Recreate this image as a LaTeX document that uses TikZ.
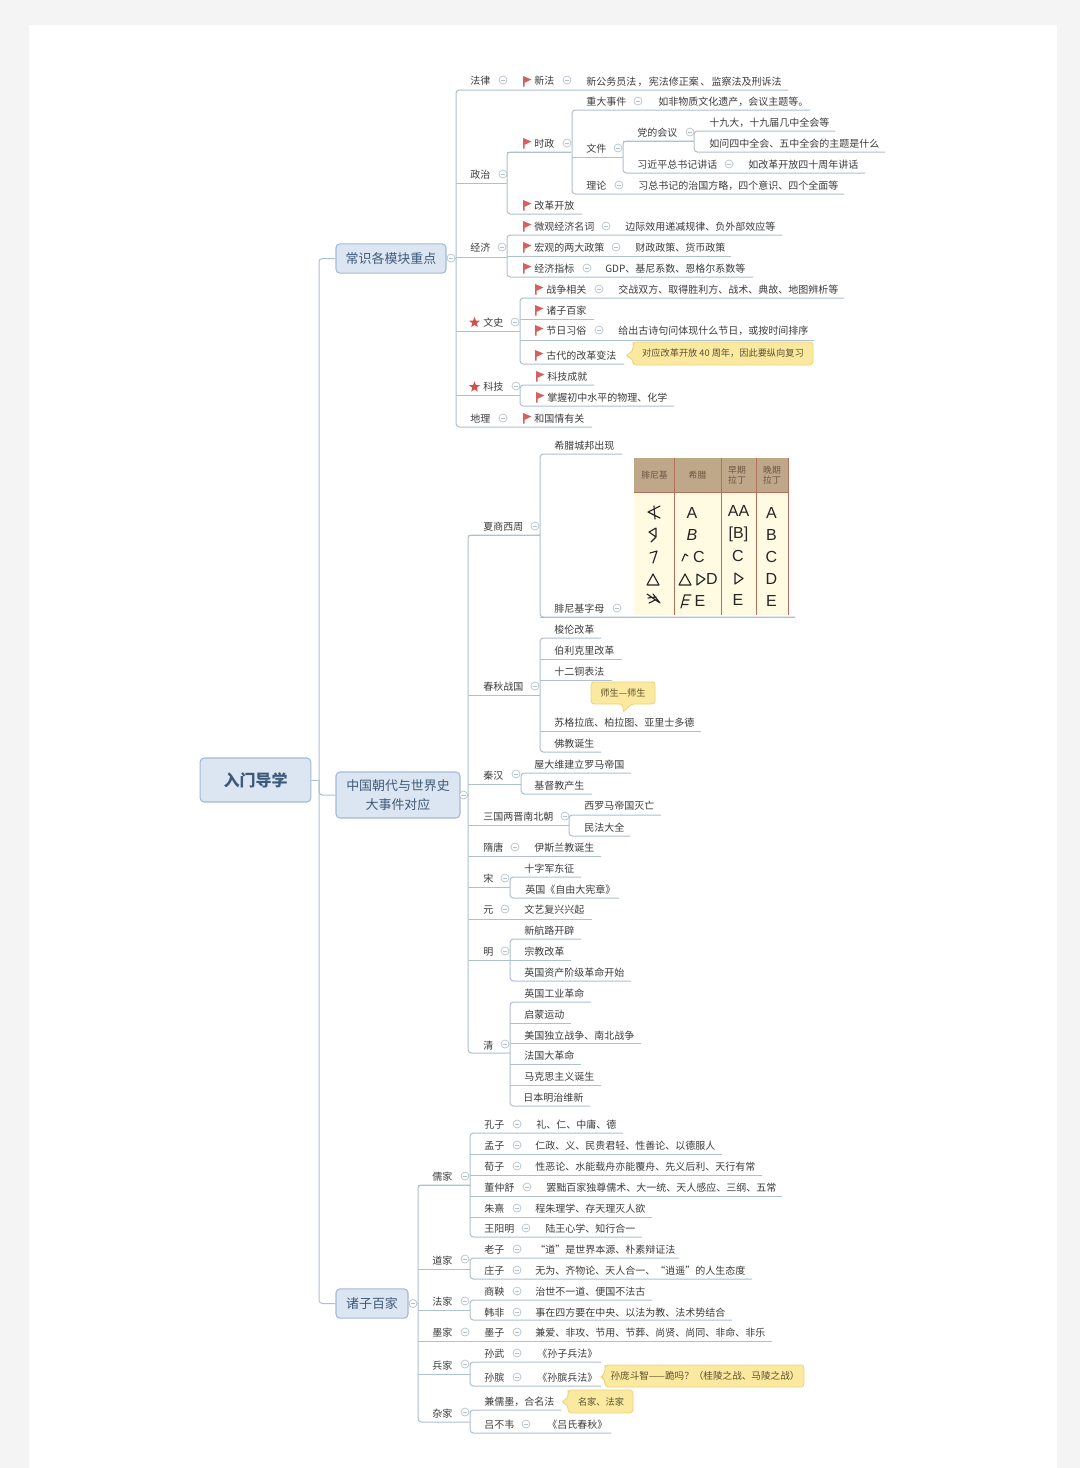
\documentclass[tikz,border=0pt]{standalone}
\usepackage{fontspec}
\setmainfont{Noto Sans CJK SC}
\newfontfamily\glyphfont{Liberation Sans}
\usetikzlibrary{shapes.geometric,calc}
\definecolor{pagebg}{HTML}{F4F4F4}
\definecolor{lnc}{HTML}{AEC0D2}
\definecolor{txc}{HTML}{3C3C3C}
\definecolor{boxf}{HTML}{DCE6F2}
\definecolor{boxd}{HTML}{A5BAD2}
\definecolor{boxt}{HTML}{3E5A7A}
\definecolor{ccd}{HTML}{B4C0CB}
\definecolor{flagc}{HTML}{D5605E}
\definecolor{starc}{HTML}{D4504E}
\definecolor{callf}{HTML}{FBE9A0}
\definecolor{calld}{HTML}{EBD37C}
\definecolor{calt}{HTML}{5A5030}
\definecolor{tanc}{HTML}{BFA78A}
\definecolor{creamc}{HTML}{FFFBE2}
\definecolor{rulec}{HTML}{B4705A}
\definecolor{hdt}{HTML}{6A5540}
\tikzset{
  ln/.style={draw=lnc,line width=0.75pt,rounded corners=2.5pt},
  txt/.style={anchor=west,inner sep=0pt,text=txc,font=\fontsize{7.5}{9}\selectfont,text height=7.6pt,text depth=1.1pt},
  cc/.style={circle,draw=ccd,fill=white,line width=0.5pt,inner sep=0pt,minimum size=6pt,
    path picture={\draw[ccd,line width=0.5pt] ([xshift=-1.6pt]path picture bounding box.center) -- ([xshift=1.6pt]path picture bounding box.center);}},
  topicbox/.style={draw=boxd,fill=boxf,line width=0.8pt,rounded corners=3pt,text=boxt,align=center,inner sep=0pt,font=\fontsize{9.7}{14}\selectfont},
  callbox/.style={fill=callf,draw=calld,line width=0.6pt,rounded corners=2.5pt},
  calltext/.style={inner sep=0pt,text=calt,font=\fontsize{6.9}{9}\selectfont},
  flagshape/.style={fill=flagc,draw=none},
  starshape/.style={star,star points=5,star point ratio=2.4,fill=starc,draw=none,inner sep=0pt,minimum size=8.5pt},
  thead/.style={inner sep=0pt,align=center,text=hdt,font=\fontsize{6.6}{7.8}\selectfont},
  tl/.style={inner sep=0pt,text=black!85,font=\glyphfont\fontsize{12}{13}\selectfont},
  arch/.style={draw=black!85,line width=0.85pt,line join=round,line cap=round}
}
% id, x, y, underline y, fork x, end x, text
\newcommand\mmI[7]{\node[txt] (#1) at (#2,#3) {#7};\coordinate (#1-f) at (#5,#4);\coordinate (#1-e) at (#6,#4);}
\newcommand\mmM[1]{\draw[ln] (#1-f) -- (#1-e);}
\newcommand\mmF[2]{\draw[ln] (#1-e) -- (#1-f) -- (#2-f) -- (#2-e);}
\newcommand\mmD[4]{\node[txt] (#1) at (#2,#3) {#4};}
\newcommand\mmC[3]{\node[cc] (#1) at (#2,#3) {};}
\newcommand\mmFlag[2]{\fill[flagshape] (#1-1,#2-5) -- (#1+7.5,#2-1.5) -- (#1+0.6,#2+1.8) -- (#1+0.6,#2+5.5) -- (#1-1,#2+5.5) -- cycle;}
\newcommand\mmStar[3]{\node[starshape] (#1) at (#2,#3) {};}
\begin{document}
\begin{tikzpicture}[x=0.75pt,y=-0.75pt]
\useasboundingbox (0,0) rectangle (1080,1468);
\fill[pagebg] (0,0) rectangle (1080,1468);
\fill[white] (29,25) rectangle (1057,1468);

% === topics ===
\node[topicbox,minimum width=83pt,minimum height=33pt,font=\fontsize{12}{14}\selectfont\bfseries] (root) at (255.5,780) {入门导学};
\node[topicbox,minimum width=82.5pt,minimum height=22pt] (b1) at (391,258.5) {常识各模块重点};
\node[topicbox,minimum width=93pt,minimum height=34.5pt] (b2) at (398,795) {中国朝代与世界史\\大事件对应};
\node[topicbox,minimum width=54pt,minimum height=22pt] (b3) at (372,1303.5) {诸子百家};
\coordinate (tr) at (319,780);
\draw[ln] (root.east) -- (tr);
\draw[ln] (b1.west) -- (b1.west -| tr) -- (b3.west -| tr) -- (b3.west);
\draw[ln] (tr) -- (b2.west -| tr) -- (b2.west);

% === section 1 ===
\mmI{fa}{470}{80}{90}{456}{788}{法律}
\mmI{zz}{470}{174}{183}{456}{507}{政治}
\mmI{sz}{534}{143}{152}{507}{571}{时政}
\mmI{zd}{586}{101}{110}{572}{810}{重大事件}
\mmI{wj}{586}{148}{157}{572}{623}{文件}
\mmI{dh}{637}{132}{141}{623}{694}{党的会议}
\mmI{sj}{709}{122}{131}{694}{835}{十九大，十九届几中全会等}
\mmI{rw}{709}{143}{152}{694}{885}{如问四中全会、五中全会的主题是什么}
\mmI{xj}{637}{164}{173}{623}{865}{习近平总书记讲话}
\mmI{ll}{586}{185}{194}{572}{844}{理论}
\mmI{gg}{534}{205}{214}{507}{582}{改革开放}
\mmI{wg}{534}{226}{235}{507}{782}{微观经济名词}
\mmI{jj}{470}{247}{257}{456}{507}{经济}
\mmI{hg}{534}{247}{256}{507}{731}{宏观的两大政策}
\mmI{jz}{534}{268}{277}{507}{753}{经济指标}
\mmI{ws}{483}{322}{331}{456}{520}{文史}
\mmI{zx}{546}{289}{298}{520}{844}{战争相关}
\mmI{zb}{546}{310}{319}{520}{594}{诸子百家}
\mmI{jr}{546}{330}{340}{520}{814}{节日习俗}
\mmI{gd}{546}{355}{364}{520}{624}{古代的改革变法}
\mmI{kj}{483}{386}{395}{456}{520}{科技}
\mmI{kc}{547}{376}{385}{520}{594}{科技成就}
\mmI{zw}{547}{397}{406}{520}{674}{掌握初中水平的物理、化学}
\mmI{dl}{470}{418}{427}{456}{592}{地理}
\mmF{fa}{dl}\mmM{zz}\mmM{jj}\mmM{ws}\mmM{kj}
\mmF{sz}{gg}\mmM{sz}
\mmF{zd}{ll}\mmM{wj}
\mmF{dh}{xj}\mmM{dh}
\mmF{sj}{rw}
\mmF{wg}{jz}\mmM{hg}
\mmF{zx}{gd}\mmM{zb}\mmM{jr}
\mmF{kc}{zw}
\mmD{xf}{534}{80}{新法}
\mmD{xfd}{586}{81}{新公务员法\kern1pt，\kern1pt宪法修正案\kern1pt、\kern1pt监察法及刑诉法}
\mmD{zdd}{658}{101}{如非物质文化遗产，会议主题等。}
\mmD{xjd}{748}{164}{如改革开放四十周年讲话}
\mmD{lld}{638}{185}{习总书记的治国方略，四个意识、四个全面等}
\mmD{wgd}{625}{226}{边际效用递减规律、负外部效应等}
\mmD{hgd}{635}{247}{财政政策、货币政策}
\mmD{jzd}{605}{268}{GDP、基尼系数、恩格尔系数等}
\mmD{zxd}{618}{289}{交战双方、取得胜利方、战术、典故、地图辨析等}
\mmD{jrd}{618}{330}{给出古诗句问体现什么节日，或按时间排序}
\mmD{dld}{534}{418}{和国情有关}
\mmFlag{524}{81}\mmFlag{524}{143}\mmFlag{524}{205}\mmFlag{524}{226}\mmFlag{524}{247}\mmFlag{524}{268}
\mmFlag{536}{289}\mmFlag{536}{310}\mmFlag{536}{330}\mmFlag{536}{355}\mmFlag{537}{376}\mmFlag{537}{397}\mmFlag{524}{418}
\mmStar{st1}{474.5}{322.5}\mmStar{st2}{474.5}{387}
\mmC{c1}{503}{80}\mmC{c2}{567}{80}\mmC{c3}{503}{174}\mmC{c4}{567}{143}\mmC{c5}{638}{101}\mmC{c6}{618}{148}
\mmC{c7}{690}{132}\mmC{c8}{729}{164}\mmC{c9}{619}{185}\mmC{c10}{502}{247}\mmC{c11}{606}{226}\mmC{c12}{616}{247}
\mmC{c13}{587}{268}\mmC{c14}{515}{322}\mmC{c15}{599}{289}\mmC{c16}{599}{330}\mmC{c17}{516}{386}\mmC{c18}{503}{418}
\draw[callbox] (633,345) -- ++(0,6) -- (625,356) -- (633,359) -- (633,365) -- (813,365) -- (813,342) -- (633,342) -- cycle;
\node[calltext] (n1) at (723,353) {对应改革开放 40 周年，因此要纵向复习};
\node[cc] (hub1) at (451,258) {};
\draw[ln] (hub1) -- (hub1 -| fa-f);

% === section 2 ===
\mmI{xs}{483}{526}{535}{468}{540}{夏商西周}
\mmI{xl}{554}{445}{454}{540}{622}{希腊城邦出现}
\mmI{fn}{554}{608}{617}{540}{795}{腓尼基字母}
\mmI{cq}{483}{686}{695}{468}{540}{春秋战国}
\mmI{sl}{554}{629}{638}{540}{601}{梭伦改革}
\mmI{bl}{554}{650}{659}{540}{622}{伯利克里改革}
\mmI{se}{554}{671}{680}{540}{612}{十二铜表法}
\mmI{sg}{554}{722}{731}{540}{701}{苏格拉底、柏拉图、亚里士多德}
\mmI{fj}{554}{743}{752}{540}{601}{佛教诞生}
\mmI{qh}{483}{775}{784}{468}{521}{秦汉}
\mmI{wd}{534}{764}{773}{521}{631}{屋大维建立罗马帝国}
\mmI{jd}{534}{785}{794}{521}{592}{基督教产生}
\mmI{sg2}{483}{816}{825}{468}{569}{三国两晋南北朝}
\mmI{xm}{584}{805}{815}{569}{661}{西罗马帝国灭亡}
\mmI{mf}{584}{827}{836}{569}{630}{民法大全}
\mmI{st}{483}{847}{856}{468}{601}{隋唐}
\mmI{so}{483}{878}{887}{468}{510}{宋}
\mmI{sz2}{524}{868}{877}{510}{581}{十字军东征}
\mmI{yg}{525}{889}{898}{510}{619}{英国《自由大宪章》}
\mmI{yu}{483}{909}{919}{468}{592}{元}
\mmI{mi}{483}{951}{960}{468}{510}{明}
\mmI{xh}{524}{930}{939}{510}{581}{新航路开辟}
\mmI{zj}{524}{951}{960}{510}{571}{宗教改革}
\mmI{yz}{524}{972}{981}{510}{631}{英国资产阶级革命开始}
\mmI{qi}{483}{1045}{1053}{468}{510}{清}
\mmI{gy}{524}{993}{1002}{510}{591}{英国工业革命}
\mmI{qm}{524}{1014}{1023}{510}{571}{启蒙运动}
\mmI{md}{524}{1035}{1043}{510}{641}{美国独立战争、南北战争}
\mmI{fg}{524}{1055}{1064}{510}{581}{法国大革命}
\mmI{mk}{524}{1076}{1085}{510}{601}{马克思主义诞生}
\mmI{rb}{523}{1097}{1106}{510}{590}{日本明治维新}
\mmF{xs}{qi}\mmM{cq}\mmM{qh}\mmM{sg2}\mmM{st}\mmM{so}\mmM{yu}\mmM{mi}
\mmF{xl}{fn}\mmM{xs}
\mmF{sl}{fj}\mmM{bl}\mmM{se}\mmM{sg}
\mmF{wd}{jd}
\mmF{xm}{mf}
\mmF{sz2}{yg}
\mmF{xh}{yz}\mmM{zj}
\mmF{gy}{rb}\mmM{qm}\mmM{md}\mmM{fg}\mmM{mk}
\mmD{std}{534}{847}{伊斯兰教诞生}
\mmD{yud}{524}{909}{文艺复兴兴起}
\mmC{d1}{535}{526}\mmC{d2}{617}{608}\mmC{d3}{535}{686}\mmC{d4}{516}{774}\mmC{d5}{565}{816}\mmC{d6}{515}{847}
\mmC{d7}{505}{878}\mmC{d8}{505}{909}\mmC{d9}{505}{951}\mmC{d10}{505}{1044}
\draw[callbox] (595,682) -- (651,682) -- (655,682) -- (655,704) -- (631,704) -- (623,713) -- (623,704) -- (591,704) -- (591,682) -- cycle;
\node[calltext] (n2) at (623,693) {师生—师生};
\node[cc] (hub2) at (463.5,795) {};
\draw[ln] (hub2) -- (hub2 -| xs-f);

% table
\fill[creamc] (634,458) rectangle (788,615);
\fill[tanc] (634,458) rectangle (788,492);
\draw[rulec,line width=0.7pt] (674,458) -- (674,615) (721,458) -- (721,615) (756,458) -- (756,615) (788.5,458) -- (788.5,615) (634,492) -- (788,492);
\node[thead] (th1) at (654.5,475) {腓尼基};
\node[thead] (th2) at (697.5,475) {希腊};
\node[thead] (th3) at (737,475) {早期\\拉丁};
\node[thead] (th4) at (772,475) {晚期\\拉丁};
\draw[arch] (660,506) -- (648,512) -- (660,518) (654,506) -- (655,519);
\draw[arch] (656,528) -- (649,532) -- (656,537) -- cycle (656,537) -- (651,542);
\draw[arch] (650,553) -- (657,551) -- (653,563);
\draw[arch] (647,585) -- (653,574) -- (659,585) -- cycle;
\draw[arch] (647,594) -- (660,603) (648,598) -- (656,597) (649,603) -- (655,600) (660,603) -- (653,594);
\draw[arch] (682,561) -- (685,554) -- (688,556);
\draw[arch] (679,585) -- (685,574) -- (691,585) -- cycle;
\draw[arch] (697,574) -- (705,579) -- (697,585) -- cycle;
\draw[arch] (684.5,595) -- (681,608) (684.5,595) -- (691,595) (683.5,600) -- (689,600) (682.5,604.5) -- (688,604.5);
\draw[arch] (735,573) -- (743,578.5) -- (735,584) -- cycle;
\node[tl] (a21) at (692,513) {A};
\node[tl,font=\glyphfont\itshape\fontsize{12}{13}\selectfont] (a22) at (692,535) {B};
\node[tl] (a23) at (699,557) {C};
\node[tl] (a24) at (712,579) {D};
\node[tl] (a25) at (700,601) {E};
\node[tl] (a31) at (738.5,511) {AA};
\node[tl] (a32) at (738.5,534) {[B]};
\node[tl] (a33) at (738,556) {C};
\node[tl] (a35) at (738,600) {E};
\node[tl] (a41) at (771.5,513) {A};
\node[tl] (a42) at (771.5,535) {B};
\node[tl] (a43) at (771.5,557) {C};
\node[tl] (a44) at (771.5,579) {D};
\node[tl] (a45) at (771.5,601) {E};
\draw[ln] (fn-f) -- (fn-e);

% === section 3 ===
\mmI{rj}{432}{1176}{1185}{418}{470}{儒家}
\mmI{kz}{484}{1124}{1133}{470}{623}{孔子}
\mmI{mz}{484}{1145}{1154}{470}{722}{孟子}
\mmI{xz}{484}{1166}{1175}{470}{762}{荀子}
\mmI{dz}{484}{1187}{1196}{470}{782}{董仲舒}
\mmI{zh}{484}{1208}{1217}{470}{652}{朱熹}
\mmI{wy}{484}{1228}{1237}{470}{642}{王阳明}
\mmI{dj}{432}{1260}{1269}{418}{470}{道家}
\mmI{lz}{484}{1249}{1258}{470}{679}{老子}
\mmI{zu}{484}{1270}{1279}{470}{752}{庄子}
\mmI{fj2}{432}{1301}{1310}{418}{470}{法家}
\mmI{sy}{484}{1291}{1300}{470}{652}{商鞅}
\mmI{hf}{484}{1312}{1320}{470}{732}{韩非}
\mmI{mj}{432}{1332}{1341}{418}{772}{墨家}
\mmI{bj}{432}{1365}{1374}{418}{470}{兵家}
\mmI{sw}{484}{1353}{1362}{470}{601}{孙武}
\mmI{sb}{484}{1377}{1386}{470}{601}{孙膑}
\mmI{za}{432}{1413}{1422}{418}{470}{杂家}
\mmI{jr2}{484}{1401}{1410}{470}{561}{兼儒墨，合名法}
\mmI{lb}{484}{1424}{1433}{470}{611}{吕不韦}
\mmF{rj}{za}\mmM{dj}\mmM{fj2}\mmM{mj}\mmM{bj}\mmM{rj}
\mmF{kz}{wy}\mmM{mz}\mmM{xz}\mmM{dz}\mmM{zh}
\mmF{lz}{zu}
\mmF{sy}{hf}
\mmF{sw}{sb}
\mmF{jr2}{lb}
\mmD{kzd}{536}{1124}{礼、仁、中庸、德}
\mmD{mzd}{535}{1145}{仁政、义、民贵君轻、性善论、以德服人}
\mmD{xzd}{535}{1166}{性恶论、水能载舟亦能覆舟、先义后利、天行有常}
\mmD{dzd}{546}{1187}{罢黜百家独尊儒术、大一统、天人感应、三纲、五常}
\mmD{zhd}{535}{1208}{程朱理学、存天理灭人欲}
\mmD{wyd}{545}{1228}{陆王心学、知行合一}
\mmD{lzd}{535}{1249}{“道”是世界本源、朴素辩证法}
\mmD{zud}{535}{1270}{无为、齐物论、天人合一、“逍遥”的人生态度}
\mmD{syd}{535}{1291}{治世不一道、便国不法古}
\mmD{hfd}{535}{1312}{事在四方要在中央、以法为教、法术势结合}
\mmD{mzi}{484}{1332}{墨子}
\mmD{mzid}{535}{1332}{兼爱、非攻、节用、节葬、尚贤、尚同、非命、非乐}
\mmD{swd}{537}{1353}{《孙子兵法》}
\mmD{sbd}{537}{1377}{《孙膑兵法》}
\mmD{lbd}{547}{1424}{《吕氏春秋》}
\mmC{e1}{465}{1176}\mmC{e2}{517}{1124}\mmC{e3}{517}{1145}\mmC{e4}{517}{1166}\mmC{e5}{527}{1187}\mmC{e6}{517}{1208}
\mmC{e7}{526}{1228}\mmC{e8}{465}{1259}\mmC{e9}{517}{1249}\mmC{e10}{517}{1270}\mmC{e11}{465}{1301}\mmC{e12}{517}{1291}
\mmC{e13}{517}{1312}\mmC{e14}{465}{1332}\mmC{e15}{517}{1332}\mmC{e16}{465}{1364}\mmC{e17}{517}{1353}\mmC{e18}{517}{1377}
\mmC{e19}{465}{1412}\mmC{e20}{526}{1424}
\draw[callbox] (605,1368) -- (605,1373) -- (601,1377) -- (605,1380) -- (605,1387) -- (804,1387) -- (804,1365) -- (605,1365) -- cycle;
\node[calltext,font=\fontsize{7.2}{9}\selectfont] (n3) at (705,1376) {孙庞斗智——跪吗？（桂陵之战、马陵之战）};
\draw[callbox] (568,1393) -- (568,1398) -- (561,1402) -- (568,1405) -- (568,1413) -- (633,1413) -- (633,1390) -- (568,1390) -- cycle;
\node[calltext] (n4) at (601,1401.5) {名家、法家};
\node[cc] (hub3) at (413,1303.5) {};
\draw[ln] (hub3) -- (hub3 -| rj-f);
\end{tikzpicture}
\end{document}
